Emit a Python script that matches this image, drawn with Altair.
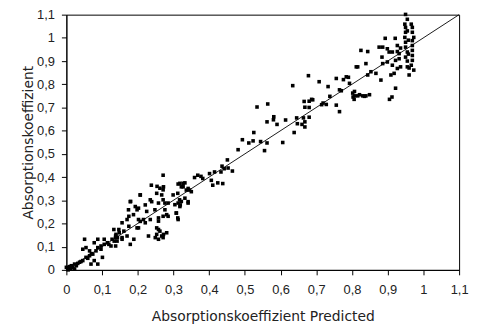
import altair as alt
import pandas as pd

pred = [
    0.000, 0.009, 0.014, 0.023, 0.028, 0.037, 0.046, 0.055, 0.065, 0.074, 0.083, 0.088, 0.097, 0.106, 0.115,
    0.125, 0.134, 0.143, 0.139, 0.148, 0.051, 0.046, 0.055, 0.065, 0.078, 0.088, 0.106, 0.097, 0.101, 0.069,
    0.078, 0.088, 0.023, 0.005, 0.012, 0.018, 0.032, 0.041, 0.060, 0.070,
    0.271, 0.238, 0.254, 0.262, 0.271, 0.207, 0.235, 0.239, 0.253, 0.267, 0.271, 0.276, 0.179, 0.193, 0.202,
    0.221, 0.225, 0.285, 0.313, 0.318, 0.332, 0.327, 0.341, 0.175, 0.188, 0.202, 0.207, 0.221, 0.235, 0.248,
    0.258, 0.271, 0.281, 0.308, 0.313, 0.253, 0.262, 0.267, 0.258, 0.271, 0.281, 0.230, 0.156, 0.147, 0.161,
    0.175, 0.198, 0.128, 0.138, 0.142, 0.156, 0.179, 0.138, 0.119,
    0.272, 0.318, 0.327, 0.207, 0.299, 0.312, 0.336, 0.350, 0.180, 0.258, 0.304, 0.322, 0.341, 0.174, 0.198,
    0.276, 0.308, 0.285, 0.170, 0.216, 0.258, 0.312, 0.133, 0.202, 0.258, 0.138, 0.156, 0.170, 0.189, 0.253,
    0.272, 0.249,
    0.534, 0.564, 0.666, 0.715, 0.668, 0.581, 0.614, 0.562, 0.590, 0.647, 0.668, 0.668, 0.680, 0.638, 0.525,
    0.493, 0.511, 0.523, 0.544, 0.562, 0.555, 0.606, 0.481, 0.451, 0.436, 0.442, 0.453, 0.465, 0.415, 0.401,
    0.433, 0.368, 0.359, 0.377, 0.382, 0.406, 0.424, 0.410, 0.438, 0.332, 0.322, 0.345, 0.313, 0.317, 0.341,
    0.319,
    0.678, 0.634, 0.708, 0.733, 0.756, 0.790, 0.776, 0.680, 0.687, 0.680, 0.728, 0.738, 0.756, 0.765, 0.770,
    0.803, 0.806, 0.580,
    0.765, 0.812, 0.839, 0.690, 0.719, 0.645, 0.664, 0.660, 0.807, 0.816, 0.830, 0.839, 0.922,
    0.950, 0.948, 0.950, 0.950, 0.948, 0.950, 0.950, 0.955, 0.950,
    0.966, 0.969, 0.969, 0.973, 0.969, 0.969, 0.969, 0.969, 0.969, 0.966, 0.973,
    0.955, 0.955, 0.958, 0.958, 0.955, 0.960, 0.960,
    0.893, 0.921, 0.876, 0.886, 0.899, 0.927, 0.936, 0.825, 0.844, 0.904, 0.913, 0.927, 0.932, 0.884, 0.922,
    0.932, 0.886, 0.899, 0.913, 0.936, 0.955, 0.816, 0.844, 0.853, 0.867, 0.918, 0.909, 0.881, 0.927, 0.802,
    0.821, 0.835, 0.849, 0.784, 0.793, 0.807, 0.912, 0.905,
]
actual = [
    0.011, 0.014, 0.018, 0.025, 0.018, 0.033, 0.040, 0.054, 0.061, 0.068, 0.082, 0.096, 0.103, 0.110, 0.117,
    0.103, 0.124, 0.139, 0.153, 0.160, 0.132, 0.089, 0.096, 0.082, 0.117, 0.132, 0.132, 0.089, 0.054, 0.025,
    0.040, 0.025, 0.004, 0.000, 0.006, 0.010, 0.028, 0.036, 0.050, 0.070,
    0.408, 0.365, 0.360, 0.352, 0.345, 0.323, 0.302, 0.294, 0.330, 0.323, 0.302, 0.288, 0.294, 0.273, 0.266,
    0.280, 0.252, 0.288, 0.288, 0.273, 0.309, 0.373, 0.351, 0.231, 0.238, 0.217, 0.209, 0.203, 0.217, 0.259,
    0.224, 0.231, 0.238, 0.245, 0.217, 0.181, 0.167, 0.146, 0.132, 0.139, 0.160, 0.146, 0.203, 0.174, 0.167,
    0.188, 0.181, 0.132, 0.146, 0.124, 0.139, 0.110, 0.103, 0.110,
    0.358, 0.373, 0.358, 0.323, 0.323, 0.330, 0.344, 0.337, 0.295, 0.288, 0.281, 0.295, 0.288, 0.259, 0.259,
    0.259, 0.245, 0.231, 0.217, 0.217, 0.210, 0.224, 0.174, 0.181, 0.174, 0.139, 0.132, 0.146, 0.132, 0.153,
    0.153, 0.139,
    0.702, 0.715, 0.726, 0.712, 0.701, 0.660, 0.646, 0.638, 0.627, 0.630, 0.638, 0.616, 0.658, 0.592, 0.592,
    0.561, 0.547, 0.556, 0.553, 0.547, 0.514, 0.549, 0.518, 0.474, 0.447, 0.436, 0.439, 0.426, 0.422, 0.415,
    0.422, 0.408, 0.398, 0.403, 0.394, 0.386, 0.375, 0.365, 0.372, 0.375, 0.358, 0.344, 0.370, 0.302, 0.294,
    0.280,
    0.837, 0.794, 0.811, 0.790, 0.825, 0.830, 0.820, 0.727, 0.735, 0.700, 0.713, 0.748, 0.710, 0.682, 0.772,
    0.745, 0.735, 0.647,
    0.776, 0.875, 0.889, 0.733, 0.719, 0.655, 0.655, 0.627, 0.750, 0.750, 0.750, 0.750, 0.783,
    1.101, 1.059, 1.045, 1.024, 1.002, 0.981, 0.960, 0.939, 0.917,
    1.059, 1.045, 1.024, 1.002, 0.988, 0.967, 0.946, 0.924, 0.903, 0.882, 0.861,
    1.080, 1.030, 0.990, 0.930, 0.900, 0.870, 0.840,
    0.998, 0.998, 0.960, 0.960, 0.953, 0.967, 0.956, 0.946, 0.941, 0.939, 0.939, 0.941, 0.932, 0.917, 0.903,
    0.910, 0.889, 0.896, 0.882, 0.875, 0.875, 0.875, 0.840, 0.854, 0.847, 0.847, 0.840, 0.818, 0.868, 0.762,
    0.755, 0.748, 0.755, 0.832, 0.804, 0.769, 0.745, 0.735,
]

tick_values = [0, 0.1, 0.2, 0.3, 0.4, 0.5, 0.6, 0.7, 0.8, 0.9, 1.0, 1.1]
diag = [0, 1.1]

df = pd.DataFrame({"pred": pred, "actual": actual})
line_df = pd.DataFrame({"pred": diag, "actual": diag})

label_expr = "replace(format(datum.value, '.1~f'), '.', ',')"

xscale = alt.Scale(domain=[0, 1.1], nice=False, zero=False)
yscale = alt.Scale(domain=[0, 1.1], nice=False, zero=False)

common_axis = dict(
    values=tick_values, labelExpr=label_expr, grid=False, tickSize=5,
    labelOverlap=False, labelFlush=False,
    domainColor="black", tickColor="black", labelColor="#222", titleColor="#222",
    labelFont="Liberation Sans", labelFontSize=13, titleFont="DejaVu Sans",
    titleFontSize=14, titleFontWeight="normal",
)
x_axis = alt.Axis(title="Absorptionskoeffizient Predicted", labelPadding=9,
                  titlePadding=13, **common_axis)
y_axis = alt.Axis(title="Absorptionskoeffizient", labelPadding=7,
                  titlePadding=1, **common_axis)

enc_x = alt.X("pred:Q", scale=xscale, axis=x_axis)
enc_y = alt.Y("actual:Q", scale=yscale, axis=y_axis)

points = alt.Chart(df).mark_square(size=13, color="black", opacity=1).encode(x=enc_x, y=enc_y)
line = alt.Chart(line_df).mark_line(color="black", strokeWidth=0.9).encode(x=enc_x, y=enc_y)

chart = alt.layer(points, line).properties(
    width=397, height=258,
    autosize=alt.AutoSizeParams(type="none"),
    padding={"left": 59, "top": 5, "right": 10, "bottom": 55},
    background="white",
).configure_view(stroke="black", strokeWidth=1)

chart.save("out.html", embed_options={"renderer": "svg", "actions": False})
